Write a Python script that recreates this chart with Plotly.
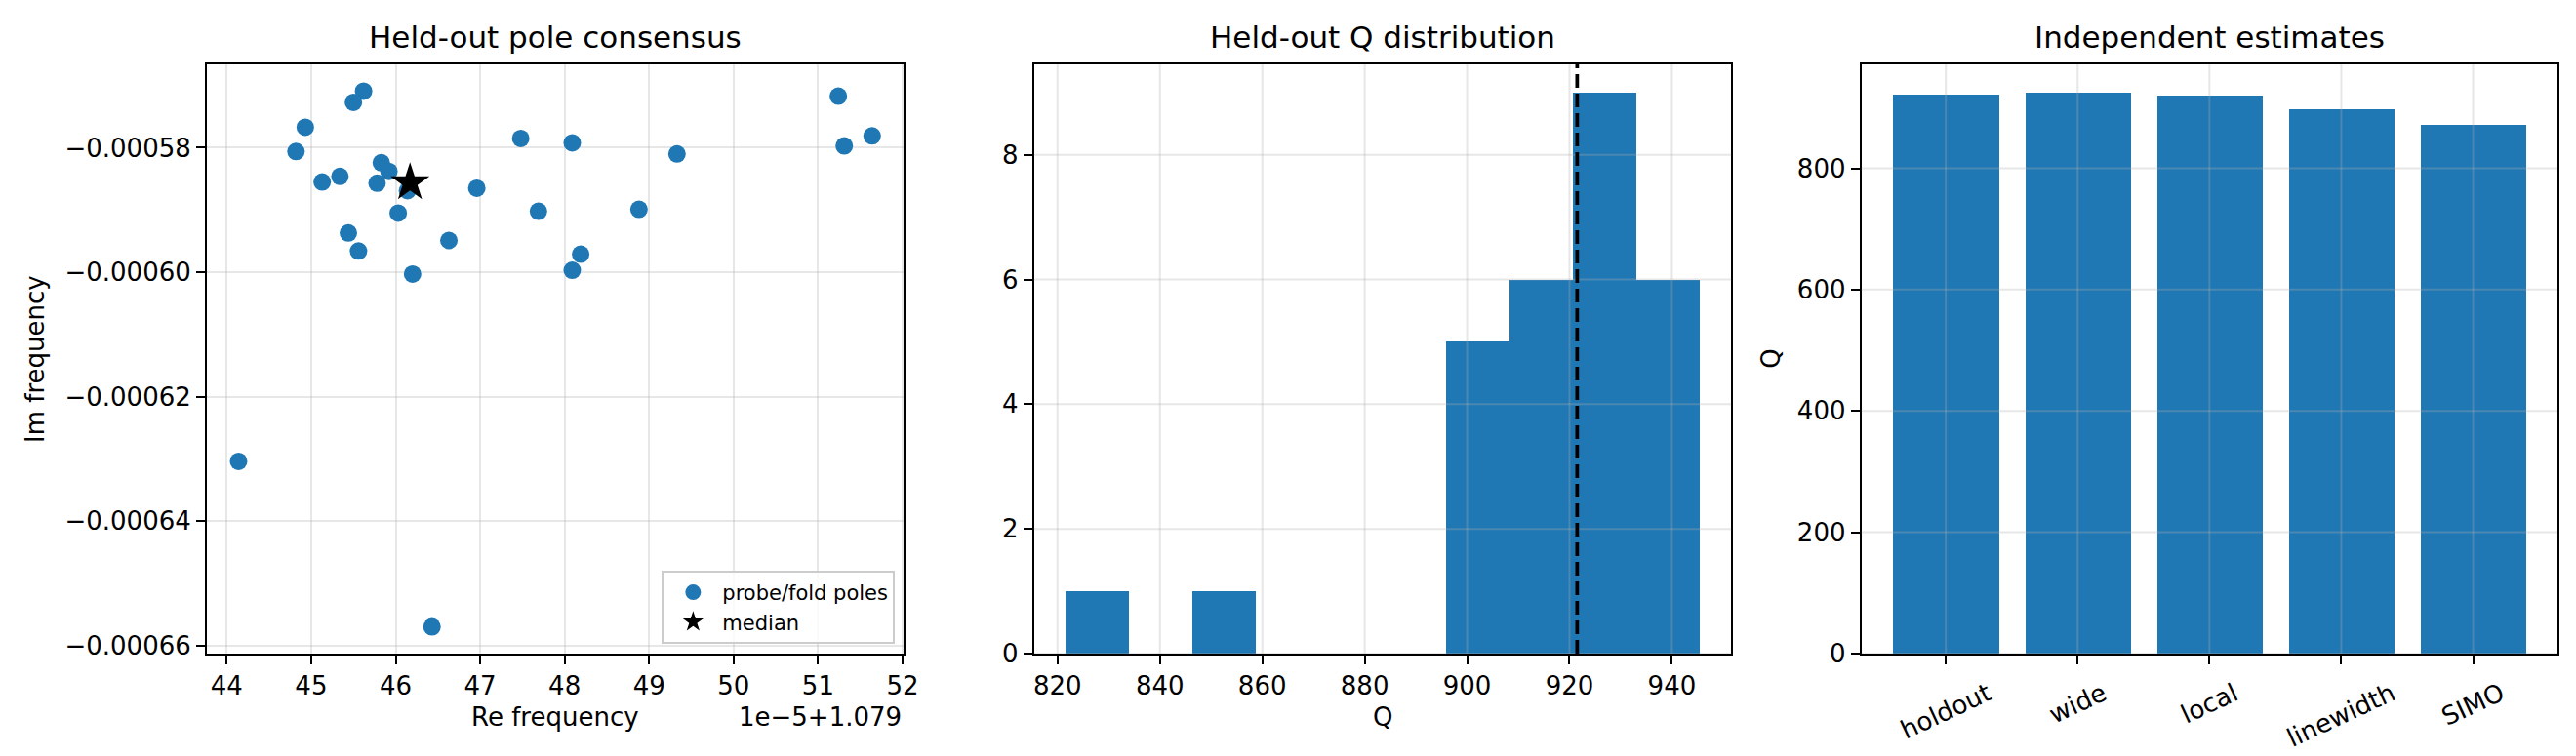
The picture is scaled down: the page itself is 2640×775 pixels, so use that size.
import numpy as np
import plotly.graph_objects as go

# Warna dan ukuran meniru gaya matplotlib default (dpi ~188).
BLUE = "#1f77b4"
GRID = "rgba(176,176,176,0.3)"
FONT = "DejaVu Sans"

# --- Panel 1: pole dari setiap probe/fold (Re, Im) ---
re_freq = [
    1.0794562, 1.0794550, 1.0794493, 1.0794482, 1.0794583, 1.0794592, 1.0794534,
    1.0794513, 1.0794578, 1.0794614, 1.0794696, 1.0794603, 1.0794544, 1.0794556,
    1.0794663, 1.0794620, 1.0794748, 1.0794769, 1.0794414, 1.0794643, 1.0795124,
    1.0795164, 1.0795131, 1.0794809, 1.0794933, 1.0794888, 1.0794819, 1.0794809,
]
im_freq = [
    -0.0005709, -0.0005727, -0.0005767, -0.0005806, -0.0005824, -0.0005838, -0.0005846,
    -0.0005855, -0.0005857, -0.0005869, -0.0005865, -0.0005905, -0.0005937, -0.0005966,
    -0.0005949, -0.0006003, -0.0005785, -0.0005902, -0.0006304, -0.0006570, -0.0005717,
    -0.0005781, -0.0005797, -0.0005792, -0.0005810, -0.0005899, -0.0005971, -0.0005997,
]
RE_BASE = 1.079
re_tick_labels = [44, 45, 46, 47, 48, 49, 50, 51, 52]  # satuan 1e-5 di atas 1.079
im_tick_vals = [-0.00058, -0.00060, -0.00062, -0.00064, -0.00066]
im_tick_labels = ["\u22120.00058", "\u22120.00060", "\u22120.00062", "\u22120.00064", "\u22120.00066"]

# --- Panel 2: distribusi Q held-out ---
q_values = [
    821.6, 852.0, 898.0, 901.0, 903.0, 905.0, 907.0, 910.0, 912.0, 914.0,
    916.0, 918.0, 919.5, 921.0, 922.0, 923.0, 924.0, 926.0, 928.0, 930.0,
    931.0, 932.5, 934.0, 936.0, 938.0, 940.0, 942.0, 945.4,
]
q_ticks = [820, 840, 860, 880, 900, 920, 940]
count_ticks = [0, 2, 4, 6, 8]

# --- Panel 3: estimasi independen ---
methods = ["holdout", "wide", "local", "linewidth", "SIMO"]
method_q = [921.5, 925.0, 920.5, 898.0, 871.0]
bar_q_ticks = [0, 200, 400, 600, 800]


def pad(lo, hi, frac=0.05):
    span = hi - lo
    return [lo - frac * span, hi + frac * span]


counts, edges = np.histogram(q_values, bins=10)
centers = (edges[:-1] + edges[1:]) / 2
widths = np.diff(edges)
q_med = float(np.median(q_values))

fig = go.Figure()

fig.add_trace(go.Scatter(
    x=re_freq, y=im_freq, mode="markers", name="probe/fold poles",
    marker=dict(color=BLUE, size=18, line=dict(width=0)),
    xaxis="x", yaxis="y",
))
fig.add_trace(go.Scatter(
    x=[float(np.median(re_freq))], y=[float(np.median(im_freq))], mode="markers",
    name="median", marker=dict(color="black", symbol="star", size=30, line=dict(width=0)),
    xaxis="x", yaxis="y",
))
fig.add_trace(go.Bar(
    x=centers, y=counts, width=widths, marker=dict(color=BLUE, line=dict(width=0)),
    showlegend=False, xaxis="x2", yaxis="y2",
))
fig.add_trace(go.Bar(
    x=methods, y=method_q, width=0.8, marker=dict(color=BLUE, line=dict(width=0)),
    showlegend=False, xaxis="x3", yaxis="y3",
))

axis_common = dict(
    showline=True, linecolor="black", linewidth=2, mirror=True,
    ticks="outside", ticklen=9, tickwidth=2, tickcolor="black",
    zeroline=False, tickfont=dict(size=26, color="black"),
)

re_range = pad(min(re_freq), max(re_freq))
im_range = pad(min(im_freq), max(im_freq))
q_range = pad(float(edges[0]), float(edges[-1]))

fig.update_layout(
    width=2640, height=775,
    margin=dict(l=204, r=18, t=58, b=113),
    paper_bgcolor="white", plot_bgcolor="white",
    font=dict(family=FONT, color="black"),
    bargap=0,
    xaxis=dict(
        domain=[0, 0.2965], anchor="y", range=re_range,
        tickvals=[RE_BASE + k * 1e-5 for k in re_tick_labels],
        ticktext=[str(k) for k in re_tick_labels],
        showgrid=True, gridcolor=GRID, gridwidth=2, **axis_common,
    ),
    yaxis=dict(
        domain=[0, 1], anchor="x", range=im_range,
        tickvals=im_tick_vals, ticktext=im_tick_labels,
        showgrid=True, gridcolor=GRID, gridwidth=2, **axis_common,
    ),
    xaxis2=dict(
        domain=[0.3519, 0.6485], anchor="y2", range=q_range,
        tickvals=q_ticks, showgrid=False, **axis_common,
    ),
    yaxis2=dict(
        domain=[0, 1], anchor="x2", range=[0, max(counts) * 1.05],
        tickvals=count_ticks, showgrid=False, **axis_common,
    ),
    xaxis3=dict(
        domain=[0.7039, 1], anchor="y3", range=[-0.64, len(methods) - 1 + 0.64],
        type="category", showticklabels=False, showgrid=False, **axis_common,
    ),
    yaxis3=dict(
        domain=[0, 1], anchor="x3", range=[0, max(method_q) * 1.05],
        tickvals=bar_q_ticks, showgrid=False, **axis_common,
    ),
    legend=dict(
        x=0.2928, y=0.0166, xanchor="right", yanchor="bottom",
        bgcolor="rgba(255,255,255,0.8)", bordercolor="#cccccc", borderwidth=2,
        font=dict(size=21), itemsizing="trace", itemwidth=50,
    ),
)

# Grid di atas batang (seperti matplotlib: grid di atas patch).
for v in q_ticks:
    fig.add_shape(type="line", xref="x2", yref="y2 domain", x0=v, x1=v, y0=0, y1=1,
                  line=dict(color=GRID, width=2), layer="above")
for v in count_ticks:
    fig.add_shape(type="line", xref="x2 domain", yref="y2", x0=0, x1=1, y0=v, y1=v,
                  line=dict(color=GRID, width=2), layer="above")
for m in methods:
    fig.add_shape(type="line", xref="x3", yref="y3 domain", x0=m, x1=m, y0=0, y1=1,
                  line=dict(color=GRID, width=2), layer="above")
for v in bar_q_ticks:
    fig.add_shape(type="line", xref="x3 domain", yref="y3", x0=0, x1=1, y0=v, y1=v,
                  line=dict(color=GRID, width=2), layer="above")

# Garis median Q (putus-putus).
fig.add_shape(type="line", xref="x2", yref="y2 domain", x0=q_med, x1=q_med, y0=0, y1=1,
              line=dict(color="black", width=3.75, dash="14px,6px"), layer="above")

titles = [("x", "y", "Held-out pole consensus"),
          ("x2", "y2", "Held-out Q distribution"),
          ("x3", "y3", "Independent estimates")]
for xa, ya, t in titles:
    fig.add_annotation(text=t, xref=f"{xa} domain", yref=f"{ya} domain", x=0.5, y=1,
                       xanchor="center", yanchor="bottom", yshift=8, showarrow=False,
                       font=dict(size=31))

# Label sumbu.
fig.add_annotation(text="Re frequency", xref="x domain", yref="y domain", x=0.5, y=0,
                   xanchor="center", yanchor="top", yshift=-48, showarrow=False,
                   font=dict(size=26))
fig.add_annotation(text="1e\u22125+1.079", xref="x domain", yref="y domain", x=1, y=0,
                   xanchor="right", yanchor="top", yshift=-48, showarrow=False,
                   font=dict(size=26))
fig.add_annotation(text="Q", xref="x2 domain", yref="y2 domain", x=0.5, y=0,
                   xanchor="center", yanchor="top", yshift=-48, showarrow=False,
                   font=dict(size=26))
fig.add_annotation(text="Im frequency", xref="x domain", yref="y domain", x=0, y=0.5,
                   xanchor="center", yanchor="middle", xshift=-176, textangle=-90,
                   showarrow=False, font=dict(size=26))
fig.add_annotation(text="Q", xref="x3 domain", yref="y3 domain", x=0, y=0.5,
                   xanchor="center", yanchor="middle", xshift=-93, textangle=-90,
                   showarrow=False, font=dict(size=26))

# Label kategori miring 25 derajat, berpusat di tick.
for m in methods:
    fig.add_annotation(text=m, xref="x3", yref="y3 domain", x=m, y=0,
                       xanchor="center", yanchor="top", yshift=-22, textangle=-25,
                       showarrow=False, font=dict(size=26))

fig.write_html("out.html")
